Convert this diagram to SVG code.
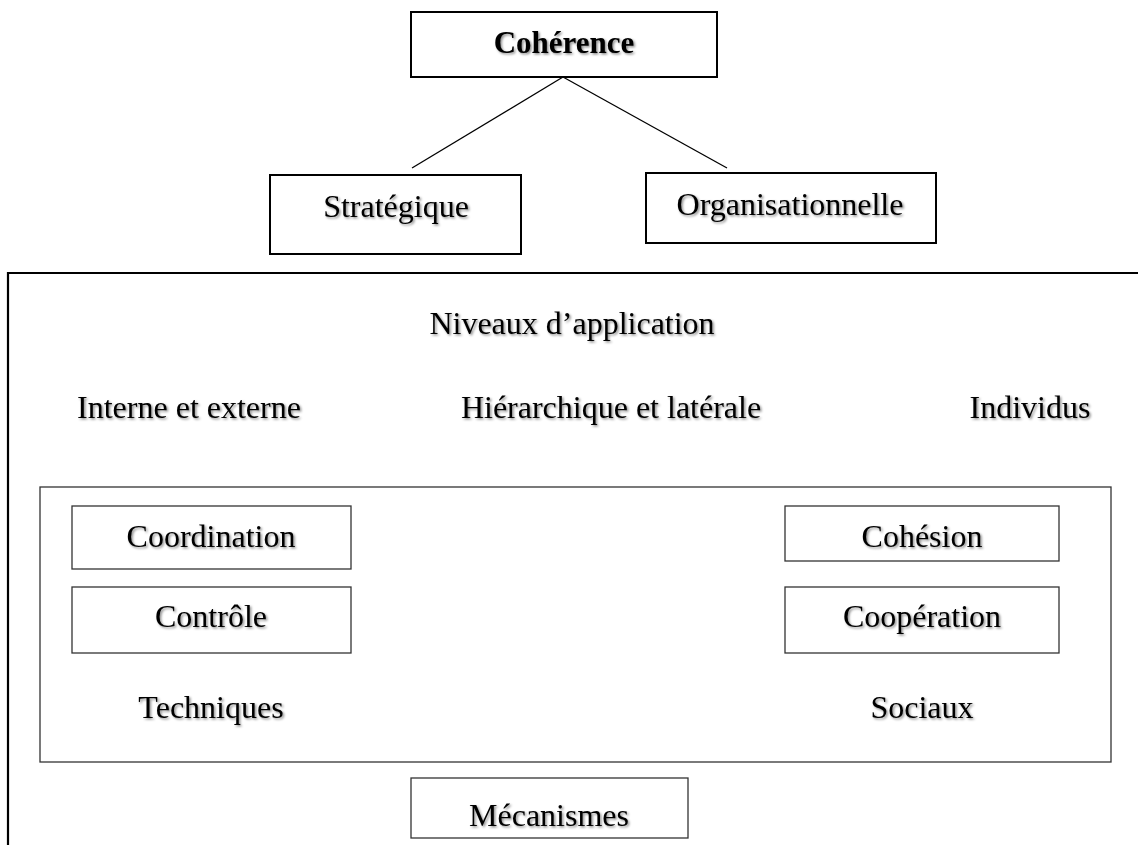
<svg xmlns="http://www.w3.org/2000/svg" width="1138" height="845" viewBox="0 0 1138 845">
<style>
.t{font-family:"Liberation Serif","Times New Roman",serif;font-size:32px;fill:#000;text-anchor:middle;filter:url(#sh)}
.b{font-weight:bold;font-size:31px}
.box2{fill:#fff;stroke:#000;stroke-width:2}
.box1{fill:#fff;stroke:#333;stroke-width:1.3}
.ln{stroke:#000;stroke-width:1.3;fill:none}
.frame{stroke:#000;stroke-width:2.2;fill:none}
</style>
<defs>
<filter id="sh" x="-10%" y="-30%" width="120%" height="160%">
<feDropShadow dx="1.5" dy="1.5" stdDeviation="1" flood-color="#000" flood-opacity="0.45"/>
</filter>
</defs>
<rect width="1138" height="845" fill="#fff"/>
<g id="connectors">
<line class="ln" x1="563" y1="77" x2="412" y2="168"/>
<line class="ln" x1="563" y1="77" x2="727" y2="168"/>
</g>
<g id="coherence">
<rect class="box2" x="411" y="12" width="306" height="65"/>
<text class="t b" x="564" y="53">Cohérence</text>
</g>
<g id="strategique">
<rect class="box2" x="270" y="175" width="251" height="79"/>
<text class="t" x="396" y="217">Stratégique</text>
</g>
<g id="organisationnelle">
<rect class="box2" x="646" y="173" width="290" height="70"/>
<text class="t" x="790" y="215">Organisationnelle</text>
</g>
<g id="niveaux">
<path class="frame" d="M1138,273 H8 V845"/>
<text class="t" x="572" y="334">Niveaux d’application</text>
<text class="t" x="189" y="418">Interne et externe</text>
<text class="t" x="611" y="418">Hiérarchique et latérale</text>
<text class="t" x="1030" y="418">Individus</text>
</g>
<g id="mecanismes-zone">
<rect class="box1" x="40" y="487" width="1071" height="275"/>
<text class="t" x="211" y="718">Techniques</text>
<text class="t" x="922" y="718">Sociaux</text>
</g>
<g id="coordination">
<rect class="box1" x="72" y="506" width="279" height="63"/>
<text class="t" x="211" y="547">Coordination</text>
</g>
<g id="controle">
<rect class="box1" x="72" y="587" width="279" height="66"/>
<text class="t" x="211" y="627">Contrôle</text>
</g>
<g id="cohesion">
<rect class="box1" x="785" y="506" width="274" height="55"/>
<text class="t" x="922" y="547">Cohésion</text>
</g>
<g id="cooperation">
<rect class="box1" x="785" y="587" width="274" height="66"/>
<text class="t" x="922" y="627">Coopération</text>
</g>
<g id="mecanismes">
<rect class="box1" x="411" y="778" width="277" height="60"/>
<text class="t" x="549" y="826">Mécanismes</text>
</g>
</svg>
